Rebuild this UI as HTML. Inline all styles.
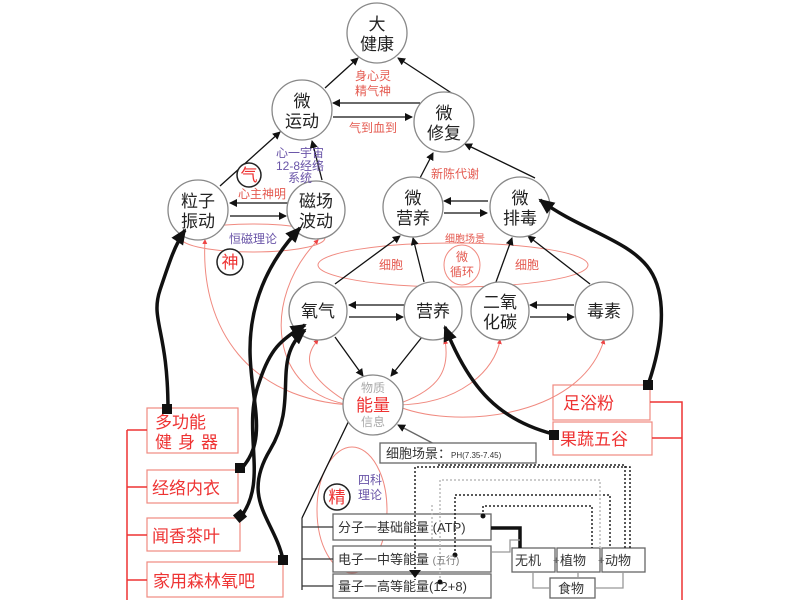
<!DOCTYPE html>
<html><head><meta charset="utf-8"><style>
body{margin:0;background:#fff}
svg{display:block}
text{font-family:"Liberation Sans","Noto Sans CJK SC",sans-serif}
</style></head><body>
<svg width="800" height="600" viewBox="0 0 800 600">
<defs>
<marker id="a" markerWidth="8" markerHeight="8" refX="7" refY="4" orient="auto" markerUnits="userSpaceOnUse"><path d="M0,0 L8,4 L0,8z" fill="#111"/></marker>
<marker id="b" markerWidth="18" markerHeight="18" refX="14" refY="9" orient="auto" markerUnits="userSpaceOnUse"><path d="M0,2 L16,9 L0,16z" fill="#111"/></marker>
<marker id="r" markerWidth="5" markerHeight="5" refX="4" refY="2.5" orient="auto" markerUnits="userSpaceOnUse"><path d="M0,0 L5,2.5 L0,5z" fill="#e44"/></marker>
</defs>
<g fill="none" stroke="#f08a80" stroke-width="1">
<ellipse cx="253" cy="238" rx="72" ry="14"/>
<ellipse cx="453" cy="265" rx="135" ry="22"/>
<ellipse cx="462" cy="265" rx="18" ry="20"/>
<ellipse cx="352" cy="510" rx="35" ry="63"/>
<path d="M352,405 C250,400 200,330 205,240" marker-end="url(#r)"/>
<path d="M352,405 C270,395 260,300 318,240" marker-end="url(#r)"/>
<path d="M352,405 C310,380 300,360 318,340" marker-end="url(#r)"/>
<path d="M395,405 C440,390 450,370 445,340" marker-end="url(#r)"/>
<path d="M395,405 C460,405 495,370 500,340" marker-end="url(#r)"/>
<path d="M395,405 C450,430 580,420 604,340" marker-end="url(#r)"/>
</g>
<g stroke="#111" stroke-width="1.3" fill="none" marker-end="url(#a)">
<line x1="325" y1="88" x2="358" y2="58"/>
<line x1="453" y1="94" x2="398" y2="58"/>
<line x1="420" y1="103" x2="333" y2="103"/>
<line x1="333" y1="117" x2="412" y2="117"/>
<line x1="220" y1="186" x2="280" y2="132"/>
<line x1="322" y1="180" x2="312" y2="141"/>
<line x1="290" y1="203" x2="230" y2="203"/>
<line x1="230" y1="216" x2="286" y2="216"/>
<line x1="420" y1="178" x2="433" y2="153"/>
<line x1="535" y1="178" x2="465" y2="144"/>
<line x1="488" y1="201" x2="444" y2="201"/>
<line x1="444" y1="213" x2="487" y2="213"/>
<line x1="335" y1="284" x2="400" y2="236"/>
<line x1="424" y1="282" x2="413" y2="238"/>
<line x1="496" y1="282" x2="512" y2="238"/>
<line x1="590" y1="284" x2="528" y2="236"/>
<line x1="404" y1="305" x2="349" y2="305"/>
<line x1="349" y1="317" x2="403" y2="317"/>
<line x1="574" y1="305" x2="530" y2="305"/>
<line x1="530" y1="317" x2="574" y2="317"/>
<line x1="335" y1="337" x2="363" y2="376"/>
<line x1="422" y1="337" x2="391" y2="376"/>
<line x1="302" y1="518" x2="355" y2="408"/>
<line x1="440" y1="447" x2="398" y2="425" stroke="#666"/>
</g>
<g fill="#fff" stroke="#888" stroke-width="1.3">
<circle cx="377" cy="33" r="30"/><circle cx="302" cy="110" r="30"/><circle cx="444" cy="122" r="30"/>
<circle cx="198" cy="210" r="30"/><circle cx="316" cy="210" r="29"/><circle cx="413" cy="207" r="30"/><circle cx="520" cy="207" r="30"/>
<circle cx="318" cy="311" r="29"/><circle cx="433" cy="311" r="29"/><circle cx="500" cy="311" r="29"/><circle cx="604" cy="311" r="29"/>
<circle cx="373" cy="405" r="30"/>
</g>
<g font-size="17" fill="#222" text-anchor="middle">
<text x="377" y="30">大</text><text x="377" y="50">健康</text>
<text x="302" y="107">微</text><text x="302" y="127">运动</text>
<text x="444" y="119">微</text><text x="444" y="139">修复</text>
<text x="198" y="207">粒子</text><text x="198" y="227">振动</text>
<text x="316" y="207">磁场</text><text x="316" y="227">波动</text>
<text x="413" y="204">微</text><text x="413" y="224">营养</text>
<text x="520" y="204">微</text><text x="520" y="224">排毒</text>
<text x="318" y="317">氧气</text><text x="433" y="317">营养</text>
<text x="500" y="308">二氧</text><text x="500" y="328">化碳</text><text x="604" y="317">毒素</text>
</g>
<text x="373" y="392" font-size="12" fill="#aaa" text-anchor="middle">物质</text>
<text x="373" y="411" font-size="17" fill="#e33" text-anchor="middle">能量</text>
<text x="373" y="426" font-size="12" fill="#aaa" text-anchor="middle">信息</text>
<g font-size="12" fill="#e45a50" text-anchor="middle">
<text x="373" y="80">身心灵</text><text x="373" y="95">精气神</text>
<text x="373" y="132">气到血到</text>
<text x="455" y="178">新陈代谢</text>
<text x="262" y="198">心主神明</text>
<text x="391" y="269">细胞</text><text x="527" y="269">细胞</text>
<text x="462" y="261">微</text><text x="462" y="276">循环</text>
<text x="465" y="242" font-size="10">细胞场景</text>
</g>
<g font-size="12" fill="#6a55a8" text-anchor="middle">
<text x="300" y="157">心一宇宙</text><text x="300" y="170">12-8经络</text><text x="300" y="182">系统</text>
<text x="253" y="243">恒磁理论</text>
<text x="370" y="484">四科</text><text x="370" y="499">理论</text>
</g>
<g fill="#fff" stroke="#222" stroke-width="1.5">
<circle cx="249" cy="175" r="12"/><circle cx="230" cy="262" r="13"/><circle cx="337" cy="497" r="13"/>
</g>
<g font-size="17" fill="#e33" text-anchor="middle">
<text x="249" y="181">气</text><text x="230" y="268">神</text><text x="337" y="503">精</text>
</g>
<g fill="none" stroke="#f08a80" stroke-width="1.2">
<rect x="147" y="408" width="91" height="45"/><rect x="147" y="470" width="91" height="33"/>
<rect x="147" y="518" width="93" height="33"/><rect x="147" y="562" width="136" height="35"/>
<rect x="553" y="385" width="97" height="35"/><rect x="553" y="422" width="99" height="33"/>
</g>
<g stroke="#e33" stroke-width="1.5" fill="none">
<path d="M127,600 V430 M127,430 H147 M127,487 H147 M127,535 H147 M127,580 H147"/>
<path d="M650,402 H682 V600 M652,438 H682"/>
</g>
<g font-size="17" fill="#e33">
<text x="155" y="428">多功能</text><text x="155" y="448" letter-spacing="6">健身器</text>
<text x="152" y="494">经络内衣</text><text x="152" y="542">闻香茶叶</text><text x="153" y="587">家用森林氧吧</text>
<text x="563" y="409">足浴粉</text><text x="560" y="445">果蔬五谷</text>
</g>
<g stroke="#111" stroke-width="3.5" fill="none" marker-end="url(#b)">
<path d="M168,410 C168,330 150,320 160,290 C170,260 175,245 185,230"/>
<path d="M240,470 C270,440 250,400 250,350 C250,300 270,260 300,228"/>
<path d="M240,518 C270,480 240,430 260,380 C270,350 280,340 305,325"/>
<path d="M283,560 C275,520 240,500 270,450 C300,400 270,360 305,330"/>
<path d="M553,434 C500,420 470,390 445,327"/>
<path d="M648,385 C660,350 670,300 650,270 C630,240 580,230 540,200"/>
</g>
<g fill="#111">
<rect x="162" y="404" width="10" height="10"/><rect x="235" y="463" width="10" height="10"/>
<rect x="235" y="511" width="10" height="10" transform="rotate(-40 240 516)"/><rect x="278" y="555" width="10" height="10"/>
<rect x="549" y="430" width="10" height="10"/><rect x="643" y="380" width="10" height="10"/>
</g>
<g fill="#fff" stroke="#666" stroke-width="1.3">
<rect x="380" y="443" width="156" height="20"/>
<rect x="333" y="514" width="158" height="26"/><rect x="333" y="546" width="158" height="26"/><rect x="333" y="574" width="158" height="24"/>
<rect x="512" y="548" width="43" height="24"/><rect x="557" y="548" width="43" height="24"/><rect x="602" y="548" width="43" height="24"/>
<rect x="550" y="578" width="45" height="20"/>
</g>
<g stroke="#333" stroke-width="1.3" fill="none">
<path d="M302,518 V590 M302,527 H333 M302,559 H333 M302,586 H333"/>
<path d="M533,572 V588 H550 M578,572 V578 M623,572 V588 H595" stroke="#999"/>
<path d="M491,528 H520 V548" stroke-width="3.5" stroke="#111"/>
<path d="M491,552 H510 V540 H520" stroke="#999"/>
</g>
<g stroke="#222" stroke-width="1.5" fill="none" stroke-dasharray="2,2">
<path d="M438,465 H625 V548"/>
<path d="M630,548 V467 H415 V580"/>
<path d="M455,555 V495 H610 V548" />
<path d="M483,516 V506 H592 V548"/>
<path d="M440,582 V480 H600 V548" stroke="#bbb"/>
<path d="M432,505 V540" stroke="#bbb"/>
</g>
<g fill="#111"><circle cx="455" cy="555" r="2.5"/><circle cx="483" cy="516" r="2.5"/><circle cx="440" cy="582" r="2.5"/>
<path d="M409,570 L421,570 L415,578z"/></g>
<g font-size="13" fill="#333">
<text x="386" y="458">细胞场景：<tspan font-size="8">PH(7.35-7.45)</tspan></text>
<text x="338" y="532">分子一基础能量 (ATP)</text>
<text x="338" y="564">电子一中等能量 <tspan font-size="10" fill="#777">(五行)</tspan></text>
<text x="338" y="591">量子一高等能量(12+8)</text>
<text x="515" y="565">无机</text><text x="560" y="565">植物</text><text x="605" y="565">动物</text>
<text x="558" y="593">食物</text>
<text x="553" y="564" font-size="11" fill="#666">+</text><text x="598" y="564" font-size="11" fill="#666">+</text>
</g>
</svg>
</body></html>
